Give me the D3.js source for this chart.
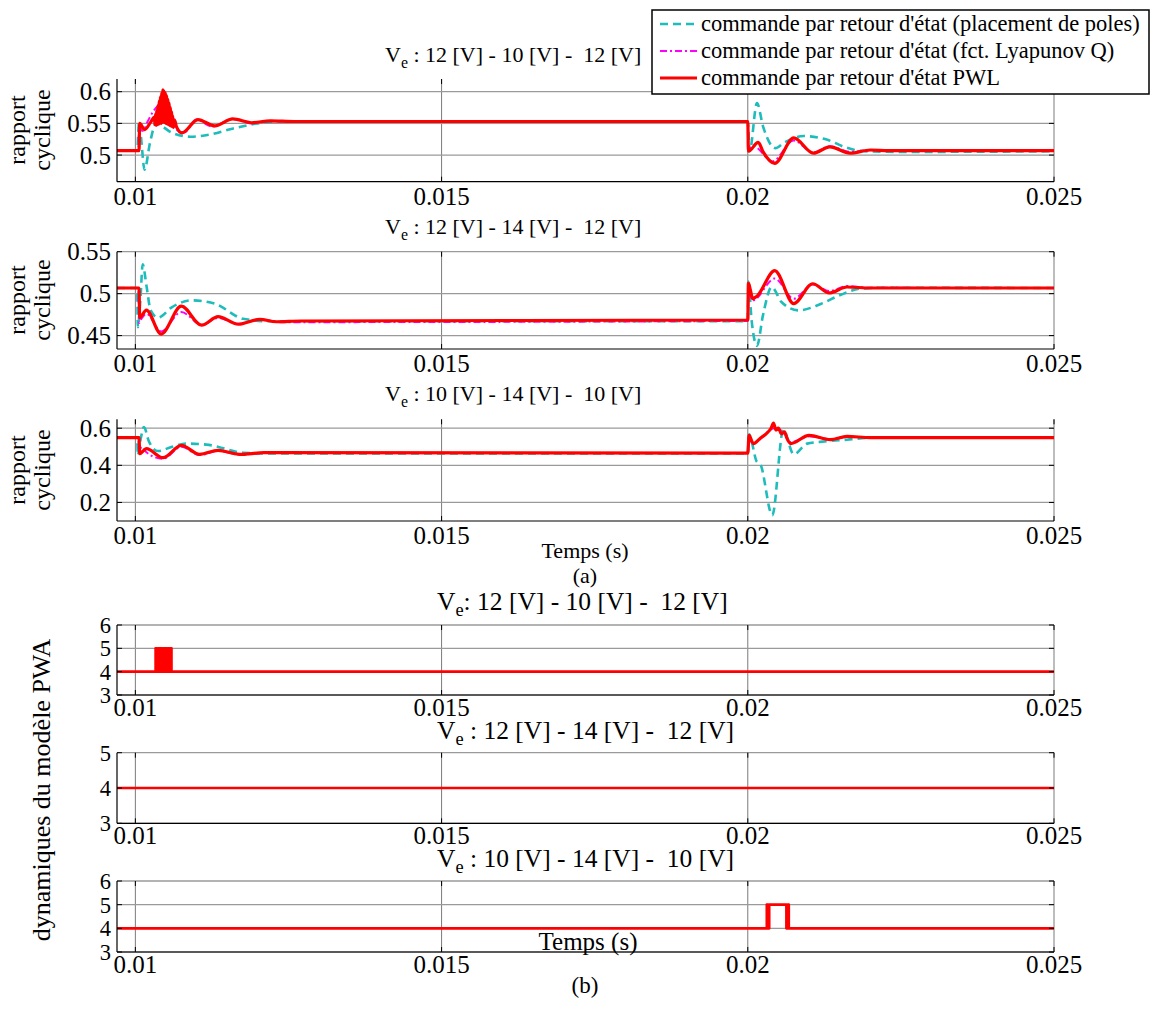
<!DOCTYPE html>
<html><head><meta charset="utf-8">
<script src="https://cdn.jsdelivr.net/npm/d3@7"></script>
<style>
body{margin:0;background:#fff}
svg{display:block}
text{font-family:"Liberation Serif","Times New Roman",serif;fill:#000;white-space:pre}
</style>
</head><body>
<svg id="c" width="1151" height="1016" font-family="Liberation Serif, Times New Roman, serif"></svg>
<script>
// ---------------- DATA ----------------
const xDomain = [0.0097, 0.025];
const xTicks = [0.01, 0.015, 0.02, 0.025];
const xTickLabels = ["0.01", "0.015", "0.02", "0.025"];

const seriesNames = [
  "commande par retour d'état (placement de poles)",
  "commande par retour d'état (fct. Lyapunov Q)",
  "commande par retour d'état PWL"
];

const topTitles = [
  " : 12 [V] - 10 [V] -  12 [V]",
  " : 12 [V] - 14 [V] -  12 [V]",
  " : 10 [V] - 14 [V] -  10 [V]"
];
const bottomTitles = [
  ": 12 [V] - 10 [V] -  12 [V]",
  " : 12 [V] - 14 [V] -  12 [V]",
  " : 10 [V] - 14 [V] -  10 [V]"
];

const p1YDomain = [0.458, 0.62];
const p1YTicks = [0.5, 0.55, 0.6];
const p1YTickLabels = ["0.5", "0.55", "0.6"];
const p2YDomain = [0.434, 0.55];
const p2YTicks = [0.45, 0.5, 0.55];
const p2YTickLabels = ["0.45", "0.5", "0.55"];
const p3YDomain = [0.1, 0.648];
const p3YTicks = [0.2, 0.4, 0.6];
const p3YTickLabels = ["0.2", "0.4", "0.6"];

// Plot 1 : Ve 12 -> 10 -> 12
const p1Pole = [[0.0097,0.507],[0.01003,0.507],[0.01006,0.553],[0.01009,0.53],[0.01015,0.477],[0.01024,0.52],[0.01034,0.551],[0.0104,0.548],[0.0106,0.535],[0.0109,0.529],[0.0112,0.532],[0.0116,0.542],[0.012,0.55],[0.0124,0.553],[0.02,0.553],[0.02003,0.506],[0.02015,0.582],[0.02025,0.545],[0.02045,0.511],[0.0206,0.52],[0.02091,0.53],[0.0213,0.524],[0.0216,0.512],[0.0219,0.506],[0.0225,0.505],[0.025,0.506]];
const p1Lyap = [[0.0097,0.507],[0.01005,0.507],[0.01006,0.545],[0.01012,0.538],[0.0102,0.553],[0.0103,0.57],[0.01042,0.58],[0.0105,0.565],[0.0106,0.545],[0.0108,0.536],[0.011,0.556],[0.01125,0.545],[0.0116,0.557],[0.0119,0.55],[0.0122,0.554],[0.0126,0.552],[0.0135,0.553],[0.02,0.553],[0.02001,0.51],[0.0201,0.515],[0.02017,0.51],[0.0204,0.49],[0.02075,0.523],[0.02107,0.504],[0.02134,0.514],[0.02167,0.505],[0.022,0.508],[0.025,0.507]];
const p1Pwl = [[0.0097,0.507],[0.01006,0.507],[0.01007,0.55],[0.01015,0.54],[0.01025,0.552],[0.01031,0.56],[0.01032,0.548],[0.01033,0.565],[0.01034,0.547],[0.01035,0.57],[0.01036,0.548],[0.01037,0.578],[0.01038,0.549],[0.01039,0.585],[0.0104,0.55],[0.01041,0.592],[0.01042,0.55],[0.01043,0.598],[0.01044,0.551],[0.01045,0.603],[0.01046,0.552],[0.01047,0.601],[0.01048,0.551],[0.01049,0.598],[0.0105,0.55],[0.01051,0.594],[0.01052,0.549],[0.01053,0.588],[0.01054,0.548],[0.01055,0.582],[0.01056,0.547],[0.01057,0.575],[0.01058,0.546],[0.01059,0.568],[0.0106,0.545],[0.01061,0.562],[0.01062,0.544],[0.01064,0.555],[0.01067,0.545],[0.01076,0.535],[0.01102,0.556],[0.0113,0.546],[0.01159,0.557],[0.0119,0.551],[0.0122,0.554],[0.0126,0.553],[0.02,0.553],[0.02001,0.506],[0.02017,0.52],[0.02025,0.505],[0.02044,0.487],[0.02075,0.527],[0.02107,0.503],[0.02134,0.513],[0.02167,0.503],[0.022,0.508],[0.0223,0.507],[0.025,0.507]];

// Plot 2 : Ve 12 -> 14 -> 12
const p2Pole = [[0.0097,0.5067],[0.01003,0.5067],[0.01004,0.46],[0.01008,0.49],[0.01012,0.535],[0.01018,0.51],[0.01025,0.48],[0.01037,0.4714],[0.0106,0.484],[0.01092,0.492],[0.0113,0.488],[0.01176,0.47],[0.0122,0.467],[0.02,0.467],[0.02001,0.5145],[0.02006,0.47],[0.02015,0.438],[0.02025,0.475],[0.02039,0.508],[0.02055,0.49],[0.02083,0.48],[0.0212,0.488],[0.0215,0.498],[0.02184,0.506],[0.0222,0.507],[0.025,0.5067]];
const p2Lyap = [[0.0097,0.5067],[0.01005,0.5067],[0.01006,0.465],[0.0101,0.47],[0.01018,0.476],[0.01042,0.455],[0.01075,0.478],[0.01108,0.463],[0.01135,0.471],[0.01168,0.464],[0.01203,0.469],[0.0124,0.466],[0.02,0.4675],[0.02001,0.5],[0.02008,0.492],[0.02044,0.518],[0.02075,0.494],[0.02106,0.511],[0.02133,0.503],[0.02162,0.509],[0.022,0.507],[0.025,0.5067]];
const p2Pwl = [[0.0097,0.5067],[0.01006,0.5067],[0.01007,0.4714],[0.01018,0.4804],[0.01042,0.4518],[0.01075,0.485],[0.01108,0.4624],[0.01135,0.4726],[0.01168,0.4635],[0.01203,0.4694],[0.0123,0.4665],[0.0127,0.4674],[0.02,0.4686],[0.02001,0.5126],[0.02004,0.505],[0.02008,0.494],[0.02015,0.497],[0.02044,0.5274],[0.02075,0.4882],[0.02106,0.5118],[0.02133,0.5008],[0.02162,0.5079],[0.022,0.5067],[0.025,0.5067]];

// Plot 3 : Ve 10 -> 14 -> 10
const p3Pole = [[0.0097,0.549],[0.01003,0.549],[0.01004,0.454],[0.01008,0.53],[0.01014,0.606],[0.01022,0.53],[0.01037,0.477],[0.0106,0.5],[0.01083,0.517],[0.0112,0.51],[0.01176,0.468],[0.0122,0.464],[0.02,0.464],[0.02002,0.567],[0.02015,0.418],[0.0202,0.409],[0.0204,0.131],[0.02058,0.592],[0.02075,0.459],[0.02097,0.517],[0.0213,0.53],[0.02162,0.538],[0.022,0.549],[0.025,0.549]];
const p3Lyap = [[0.0097,0.549],[0.01005,0.549],[0.01006,0.47],[0.0101,0.5],[0.01018,0.47],[0.01045,0.435],[0.01075,0.5],[0.01105,0.455],[0.01135,0.478],[0.0117,0.458],[0.0121,0.466],[0.02,0.466],[0.02001,0.55],[0.02008,0.52],[0.02044,0.6],[0.0206,0.57],[0.0207,0.525],[0.021,0.556],[0.02135,0.54],[0.0216,0.553],[0.025,0.552]];
const p3Pwl = [[0.0097,0.549],[0.01006,0.549],[0.01007,0.463],[0.01018,0.49],[0.01045,0.441],[0.01075,0.5075],[0.01105,0.459],[0.01135,0.481],[0.0117,0.459],[0.0121,0.468],[0.02,0.466],[0.02002,0.561],[0.02009,0.517],[0.0202,0.545],[0.0203,0.57],[0.02038,0.6],[0.02042,0.627],[0.02046,0.59],[0.0205,0.6],[0.02055,0.57],[0.0206,0.58],[0.02064,0.545],[0.0207,0.517],[0.021,0.561],[0.02135,0.538],[0.02162,0.556],[0.022,0.549],[0.025,0.549]];

// PWA model dynamics (active mode), step signals
const m1YDomain = [3, 6], m1YTicks = [3, 4, 5, 6], m1YTickLabels = ["3","4","5","6"];
const m2YDomain = [3, 5], m2YTicks = [3, 4, 5], m2YTickLabels = ["3","4","5"];
const m3YDomain = [3, 6], m3YTicks = [3, 4, 5, 6], m3YTickLabels = ["3","4","5","6"];
const mode1 = [[0.0097,4],[0.01033,5],[0.01035,4],[0.01037,5],[0.01039,4],[0.01041,5],[0.01043,4],[0.01045,5],[0.01047,4],[0.01049,5],[0.01051,4],[0.01053,5],[0.01055,4],[0.01057,5],[0.01059,4],[0.025,4]];
const mode2 = [[0.0097,4],[0.025,4]];
const mode3 = [[0.0097,4],[0.02031,5],[0.02033,4],[0.02035,5],[0.02063,4],[0.02065,5],[0.02067,4],[0.025,4]];

// ---------------- DRAW ----------------
const svg = d3.select("#c");
const X0 = 117, X1 = 1054;
const x = d3.scaleLinear().domain(xDomain).range([X0, X1]);

const styles = [
  {color:"#1fbcbc", width:2.6, dash:"8,5"},
  {color:"#ff00ff", width:2, dash:"7,3,2,3"},
  {color:"#ff0000", width:3.2, dash:null}
];

function panel(cfg){
  const y = d3.scaleLinear().domain(cfg.yDomain).range([cfg.bottom, cfg.top]);
  const g = svg.append("g");
  g.selectAll(".gx").data(xTicks).enter().append("line")
    .attr("x1", d=>x(d)).attr("x2", d=>x(d)).attr("y1", cfg.top).attr("y2", cfg.bottom)
    .attr("stroke", "#7a7a7a").attr("stroke-width", 1);
  g.selectAll(".gy").data(cfg.yTicks).enter().append("line")
    .attr("x1", X0).attr("x2", X1).attr("y1", d=>y(d)).attr("y2", d=>y(d))
    .attr("stroke", "#9a9a9a").attr("stroke-width", 1.3);
  const line = d3.line().x(d=>x(d[0])).y(d=>y(d[1])).curve(cfg.curve);
  cfg.series.forEach((s,i)=>{
    const st = cfg.styles[i];
    g.append("path").attr("d", line(s)).attr("fill","none")
      .attr("stroke", st.color).attr("stroke-width", st.width)
      .attr("stroke-dasharray", st.dash).attr("stroke-linejoin","round");
  });
  g.append("line").attr("x1",X0).attr("x2",X0).attr("y1",cfg.top).attr("y2",cfg.bottom).attr("stroke","#000").attr("stroke-width",1.2);
  g.append("line").attr("x1",X0).attr("x2",X1).attr("y1",cfg.bottom).attr("y2",cfg.bottom).attr("stroke","#000").attr("stroke-width",1.2);
  const tl = 5;
  xTicks.forEach(t=>{
    g.append("line").attr("x1",x(t)).attr("x2",x(t)).attr("y1",cfg.bottom).attr("y2",cfg.bottom-tl).attr("stroke","#000");
    g.append("line").attr("x1",x(t)).attr("x2",x(t)).attr("y1",cfg.top).attr("y2",cfg.top+tl).attr("stroke","#000");
  });
  cfg.yTicks.forEach(t=>{
    g.append("line").attr("x1",X0).attr("x2",X0+tl).attr("y1",y(t)).attr("y2",y(t)).attr("stroke","#000");
    g.append("line").attr("x1",X1).attr("x2",X1-tl).attr("y1",y(t)).attr("y2",y(t)).attr("stroke","#000");
  });
  g.selectAll(".xl").data(xTicks).enter().append("text")
    .attr("x", d=>x(d)).attr("y", cfg.bottom + cfg.xlOff).attr("text-anchor","middle")
    .attr("font-size", 25).text((d,i)=>xTickLabels[i]);
  g.selectAll(".yl").data(cfg.yTicks).enter().append("text")
    .attr("x", 111).attr("y", d=>y(d)).attr("dy","0.35em").attr("text-anchor","end")
    .attr("font-size", cfg.yFs).text((d,i)=>cfg.yTickLabels[i]);
  const tt = g.append("text").attr("x", cfg.titleX).attr("y", cfg.titleY).attr("font-size", cfg.titleSize);
  tt.append("tspan").text("V");
  tt.append("tspan").attr("dy", 6).attr("font-size", cfg.titleSize*0.72).text("e");
  tt.append("tspan").attr("dy", -6).text(cfg.title);
}

const topStyles = styles;
const botStyles = [{color:"#ff0000", width:2.6, dash:null}];

panel({top:79, bottom:181.7, yDomain:p1YDomain, yTicks:p1YTicks, yTickLabels:p1YTickLabels, yFs:25,
  series:[p1Pole,p1Lyap,p1Pwl], styles:topStyles, curve:d3.curveMonotoneX,
  title:topTitles[0], titleX:385, titleY:62, titleSize:22, xlOff:23});
panel({top:251.7, bottom:349, yDomain:p2YDomain, yTicks:p2YTicks, yTickLabels:p2YTickLabels, yFs:25,
  series:[p2Pole,p2Lyap,p2Pwl], styles:topStyles, curve:d3.curveMonotoneX,
  title:topTitles[1], titleX:385, titleY:234, titleSize:22, xlOff:23});
panel({top:419.3, bottom:521, yDomain:p3YDomain, yTicks:p3YTicks, yTickLabels:p3YTickLabels, yFs:25,
  series:[p3Pole,p3Lyap,p3Pwl], styles:topStyles, curve:d3.curveMonotoneX,
  title:topTitles[2], titleX:385, titleY:401, titleSize:22, xlOff:23});

panel({top:625, bottom:695, yDomain:m1YDomain, yTicks:m1YTicks, yTickLabels:m1YTickLabels, yFs:22.5,
  series:[mode1], styles:botStyles, curve:d3.curveStepAfter,
  title:bottomTitles[0], titleX:437, titleY:610, titleSize:25.5, xlOff:21});
panel({top:752.7, bottom:823.3, yDomain:m2YDomain, yTicks:m2YTicks, yTickLabels:m2YTickLabels, yFs:22.5,
  series:[mode2], styles:botStyles, curve:d3.curveStepAfter,
  title:bottomTitles[1], titleX:437, titleY:739, titleSize:25.5, xlOff:21});
panel({top:881, bottom:952, yDomain:m3YDomain, yTicks:m3YTicks, yTickLabels:m3YTickLabels, yFs:22.5,
  series:[mode3], styles:botStyles, curve:d3.curveStepAfter,
  title:bottomTitles[2], titleX:437, titleY:867, titleSize:25.5, xlOff:21});

function vlabel(txt, cx, cy, size){
  svg.append("text").attr("transform", `translate(${cx},${cy}) rotate(-90)`)
    .attr("text-anchor","middle").attr("font-size", size).text(txt);
}
[130, 300, 470].forEach(cy=>{
  vlabel("rapport", 25, cy, 24);
  vlabel("cyclique", 50, cy, 24);
});
vlabel("dynamiques du modèle PWA", 50, 790, 26);

svg.append("text").attr("x",585).attr("y",558).attr("text-anchor","middle").attr("font-size",22).text("Temps (s)");
svg.append("text").attr("x",585).attr("y",583).attr("text-anchor","middle").attr("font-size",22).text("(a)");
svg.append("text").attr("x",588).attr("y",950).attr("text-anchor","middle").attr("font-size",25).text("Temps (s)");
svg.append("text").attr("x",585).attr("y",993).attr("text-anchor","middle").attr("font-size",23).text("(b)");

const lg = svg.append("g");
lg.append("rect").attr("x",652).attr("y",10).attr("width",497).attr("height",84)
  .attr("fill","#fff").attr("stroke","#000").attr("stroke-width",1.5);
const legY = [24, 51, 78];
seriesNames.forEach((n,i)=>{
  lg.append("line").attr("x1",660).attr("x2",697).attr("y1",legY[i]).attr("y2",legY[i])
    .attr("stroke",styles[i].color).attr("stroke-width",styles[i].width).attr("stroke-dasharray",styles[i].dash);
  lg.append("text").attr("x",701).attr("y",legY[i]).attr("dy","0.33em").attr("font-size",22.5).text(n);
});
</script>
</body></html>
